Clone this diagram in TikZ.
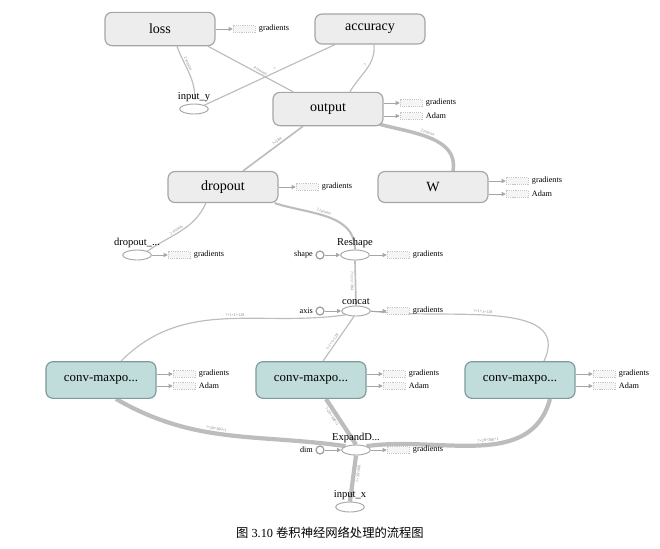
\documentclass[tikz,border=0pt]{standalone}
\usepackage{fontspec}
\setmainfont{Liberation Serif}
\newfontfamily\cjk{Noto Sans CJK SC}
\usetikzlibrary{arrows.meta, positioning, shapes.geometric, calc, backgrounds}
\definecolor{opfill}{HTML}{EDEDED}
\definecolor{opdraw}{HTML}{A6A6A6}
\definecolor{convfill}{HTML}{C0DCDB}
\definecolor{convdraw}{HTML}{7E9C9B}
\definecolor{wire}{HTML}{BDBDBD}

\begin{document}
\begin{tikzpicture}[x=0.03cm, y=-0.03cm,
  op/.style={rectangle, rounded corners=6pt, draw=opdraw, line width=1pt,
             fill=opfill, minimum width=3.3cm, minimum height=1cm,
             font=\fontsize{12}{14}\selectfont},
  conv/.style={op, fill=convfill, draw=convdraw, minimum height=1.1cm,
               font=\fontsize{11}{13}\selectfont},
  tensor/.style={ellipse, draw=opdraw, line width=0.8pt, fill=white,
                 minimum width=0.86cm, minimum height=0.3cm, inner sep=0pt,
                 label={[font=\fontsize{9}{10}\selectfont, inner sep=1pt]above:#1}},
  const/.style={circle, draw=gray!80, line width=1pt, fill=white,
                minimum size=0.24cm, inner sep=0pt,
                label={[font=\fontsize{7}{8}\selectfont, inner sep=1pt, label distance=1pt]left:#1}},
  aux/.style={rectangle, draw=gray!45, dash pattern=on 1pt off 0.8pt,
              fill=gray!8, minimum width=0.66cm, minimum height=0.2cm,
              inner sep=0pt,
              label={[font=\fontsize{7}{8}\selectfont, inner sep=1pt, label distance=2pt]right:#1}},
  wire/.style={draw=wire, line width=1pt},
  mid/.style={wire, line width=1.8pt},
  heavy/.style={wire, line width=3.6pt},
  feed/.style={-{Triangle[length=3.5pt, width=3.5pt]}, draw=gray!70, line width=0.8pt},
  elab/.style={font=\fontsize{3.5}{4}\selectfont, text=gray, sloped, above, inner sep=1pt}
]
  \useasboundingbox (0,0) rectangle (660,548);

  % operation boxes
  \node[op] (loss) at (160,29) {loss};
  \node[op, minimum height=0.9cm] (accuracy) at (370,29) {accuracy};
  \node[op] (output) at (328,109) {output};
  \node[op, minimum height=0.93cm] (dropout) at (223,187) {dropout};
  \node[op, minimum height=0.93cm] (W) at (433,187) {W};
  \node[conv] (conv1) at (101,380) {conv-maxpo...};
  \node[conv] (conv2) at (311,380) {conv-maxpo...};
  \node[conv] (conv3) at (520,380) {conv-maxpo...};

  % small tensors
  \node[tensor=input\_y] (inputy) at (194,109) {};
  \node[tensor=dropout\_...] (dropt) at (137,255) {};
  \node[tensor=Reshape] (reshape) at (355,255) {};
  \node[tensor=concat] (concat) at (356,311) {};
  \node[tensor=ExpandD...] (expand) at (356,450) {};
  \node[tensor=input\_x] (inputx) at (350,507) {};

  % constants
  \node[const=shape] (shapec) at (320,255) {};
  \node[const=axis] (axisc) at (320,311) {};
  \node[const=dim] (dimc) at (320,450) {};

  % gradient / optimizer stubs
  \node[aux=gradients] (lossg) at (244,29) {};
  \node[aux=gradients] (outg) at (411,103) {};
  \node[aux=Adam] (outa) at (411,116) {};
  \node[aux=gradients] (dropg) at (307,187) {};
  \node[aux=gradients] (Wg) at (517,181) {};
  \node[aux=Adam] (Wa) at (517,194) {};
  \node[aux=gradients] (droptg) at (179,255) {};
  \node[aux=gradients] (reshapeg) at (398,255) {};
  \node[aux=gradients] (concatg) at (398,311) {};
  \node[aux=gradients] (expandg) at (398,450) {};
  \foreach \c/\x in {conv1/184, conv2/394, conv3/604} {
    \node[aux=gradients] (\c g) at (\x,374) {};
    \node[aux=Adam] (\c a) at (\x,386) {};
  }

  % data flow
  \begin{scope}[on background layer]
  \draw[wire] ($(loss.south)+(17,0)$) to[out=-70, in=90]
    node[elab, pos=0.35]{2 tensors} ($(inputy.north)+(1,-4)$);
  \draw[wire] ($(loss.south)+(48,0)$) -- node[elab, pos=0.6]{4 tensors}
    ($(output.north)+(-35,0)$);
  \draw[wire] ($(accuracy.south)+(-35,0)$) -- node[elab, pos=0.45]{?}
    (inputy.north east);
  \draw[wire] ($(accuracy.south)+(4,0)$) to[out=-85, in=60]
    node[elab, pos=0.45]{?} ($(output.north)+(22,0)$);
  \draw[wire, line width=1.4pt] ($(output.south)+(-25,0)$) --
    node[elab, pos=0.4]{?×384} ($(dropout.north)+(20,0)$);
  \draw[wire, line width=3pt] ($(output.south east)+(-4,-2)$) to[out=-15, in=80]
    node[elab, pos=0.45]{2 tensors} ($(W.north)+(20,0)$);
  \draw[wire] ($(dropout.south)+(-17,0)$) to[out=-115, in=35]
    node[elab, pos=0.55]{2 tensors} (dropt.north east);
  \draw[mid] ($(dropout.south east)+(-4,0)$) to[out=-18, in=90]
    node[elab, pos=0.45]{2 tensors} (reshape.north);
  \draw[wire, line width=1.4pt] (reshape.south) --
    node[elab, pos=0.45, below]{?×1×1×384} (concat.north);
  \draw[wire] (concat.south west) to[out=188, in=45]
    node[elab, pos=0.45]{?×1×1×128} ($(conv1.north)+(20,0)$);
  \draw[wire] (concat.250) -- node[elab, pos=0.62]{?×1×1×128}
    ($(conv2.north)+(12,0)$);
  \draw[wire] (concat.east) to[out=-8, in=65]
    node[elab, pos=0.45]{?×1×1×128} ($(conv3.north)+(24,0)$);
  \draw[heavy] ($(conv1.south)+(15,0)$) to[out=-30, in=172]
    node[elab, pos=0.45]{?×20×300×1} (expand.north west);
  \draw[heavy] ($(conv2.south)+(15,0)$) --
    node[elab, pos=0.33, below]{?×20×300×1} (expand.north);
  \draw[heavy] ($(conv3.south)+(30,0)$) to[out=-105, in=8]
    node[elab, pos=0.45]{?×20×300×1} (expand.north east);
  \draw[heavy] (inputx.north) --
    node[elab, pos=0.62, below]{?×20×300} (expand.south);
  \end{scope}

  % constant inputs
  \draw[feed] (shapec) -- (reshape);
  \draw[feed] (axisc) -- (concat);
  \draw[feed] (dimc) -- (expand);

  % gradient stubs
  \draw[feed] (loss.east |- lossg) -- (lossg);
  \draw[feed] (output.east |- outg) -- (outg);
  \draw[feed] (output.east |- outa) -- (outa);
  \draw[feed] (dropout.east |- dropg) -- (dropg);
  \draw[feed] (W.east |- Wg) -- (Wg);
  \draw[feed] (W.east |- Wa) -- (Wa);
  \draw[feed] (dropt) -- (droptg);
  \draw[feed] (reshape) -- (reshapeg);
  \draw[feed] (concat) -- (concatg);
  \draw[feed] (expand) -- (expandg);
  \foreach \c in {conv1, conv2, conv3} {
    \draw[feed] (\c.east |- \c g) -- (\c g);
    \draw[feed] (\c.east |- \c a) -- (\c a);
  }

  \node[font=\fontsize{10.5}{12}\selectfont] (caption) at (330,533)
    {{\cjk 图} 3.10 {\cjk 卷积神经网络处理的流程图}};
\end{tikzpicture}
\end{document}
